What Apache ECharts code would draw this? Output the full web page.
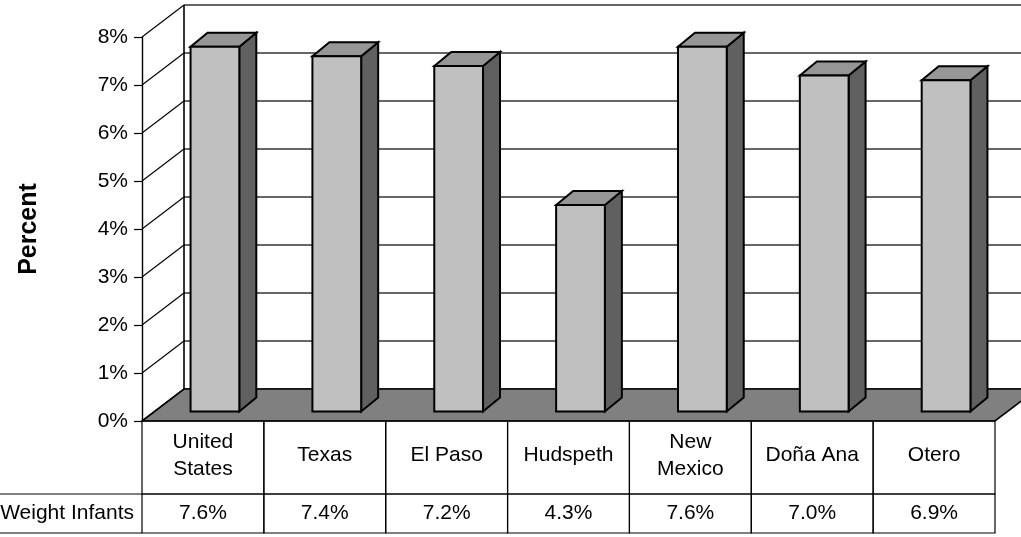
<!DOCTYPE html>
<html>
<head>
<meta charset="utf-8">
<script src="https://cdn.jsdelivr.net/npm/echarts@6/dist/echarts.min.js"></script>
<style>
  html, body { margin: 0; padding: 0; background: #fff; }
  #chart { width: 1021px; height: 537px; }
</style>
</head>
<body>
<div id="chart"></div>
<script>
// Low birth weight infants by area (percent)
const categories = ['United\nStates', 'Texas', 'El Paso', 'Hudspeth', 'New\nMexico', 'Doña Ana', 'Otero'];
const values = [7.6, 7.4, 7.2, 4.3, 7.6, 7.0, 6.9];
const rowLabel = 'Low Birth Weight Infants';
const yTicks = [0, 1, 2, 3, 4, 5, 6, 7, 8];
const axisName = 'Percent';

const FONT = '"Liberation Sans", Arial, sans-serif';

// Depth of the floor / walls and of each box, in pixels
const WALL_DX = 42, WALL_DY = -32;
const BAR_OX = 12, BAR_OY = -9.5;
const BAR_DX = 17, BAR_DY = -14;
const CAT_ROW_H = 73, VAL_ROW_H = 39;

const chart = echarts.init(document.getElementById('chart'), null, { renderer: 'canvas' });

function renderWall(params, api) {
  const cs = params.coordSys;
  const t = api.value(1);
  const y = api.coord([0, t])[1];
  const left = cs.x, right = cs.x + cs.width;
  return {
    type: 'group',
    children: [
      { type: 'line', shape: { x1: left + WALL_DX, y1: y + WALL_DY, x2: right + WALL_DX, y2: y + WALL_DY },
        style: { stroke: '#333', lineWidth: 1.5 } },
      { type: 'line', shape: { x1: left, y1: y, x2: left + WALL_DX, y2: y + WALL_DY },
        style: { stroke: '#000', lineWidth: 1.2 } }
    ]
  };
}

function renderFloor(params, api) {
  const cs = params.coordSys;
  const y0 = api.coord([0, yTicks[0]])[1];
  const yTop = api.coord([0, yTicks[yTicks.length - 1]])[1];
  const left = cs.x, right = cs.x + cs.width;
  return {
    type: 'group',
    children: [
      { type: 'line', shape: { x1: left + WALL_DX, y1: yTop + WALL_DY, x2: left + WALL_DX, y2: y0 + WALL_DY },
        style: { stroke: '#000', lineWidth: 1.6 } },
      { type: 'polygon',
        shape: { points: [[left, y0], [right, y0], [right + WALL_DX, y0 + WALL_DY], [left + WALL_DX, y0 + WALL_DY]] },
        style: { fill: '#808080', stroke: '#000', lineWidth: 1.6, lineJoin: 'miter' } }
    ]
  };
}

function renderBar(params, api) {
  const idx = api.value(0), v = api.value(1);
  const base = api.coord([idx, 0]);
  const top = api.coord([idx, v]);
  const bw = api.size([1, 0])[0] * 0.4;
  const x0 = base[0] - bw / 2 + BAR_OX, x1 = x0 + bw;
  const yb = base[1] + BAR_OY, yt = top[1] + BAR_OY;
  const edge = { stroke: '#000', lineWidth: 2, lineJoin: 'miter' };
  return {
    type: 'group',
    children: [
      { type: 'polygon', shape: { points: [[x1, yt], [x1 + BAR_DX, yt + BAR_DY], [x1 + BAR_DX, yb + BAR_DY], [x1, yb]] },
        style: Object.assign({ fill: '#606060' }, edge) },
      { type: 'polygon', shape: { points: [[x0, yt], [x0 + BAR_DX, yt + BAR_DY], [x1 + BAR_DX, yt + BAR_DY], [x1, yt]] },
        style: Object.assign({ fill: '#969696' }, edge) },
      { type: 'rect', shape: { x: x0, y: yt, width: bw, height: yb - yt },
        style: Object.assign({ fill: '#C0C0C0' }, edge) }
    ]
  };
}

function renderTable(params, api) {
  const idx = api.value(0), v = api.value(1);
  const c = api.coord([idx, 0]);
  const w = api.size([1, 0])[0];
  const xL = c[0] - w / 2;
  const y0 = c[1];
  const line = { stroke: '#000', lineWidth: 1.2, fill: null };
  const children = [
    { type: 'rect', shape: { x: xL, y: y0, width: w, height: CAT_ROW_H }, style: Object.assign({}, line) },
    { type: 'rect', shape: { x: xL, y: y0 + CAT_ROW_H, width: w, height: VAL_ROW_H }, style: Object.assign({}, line) },
    { type: 'text', style: { x: c[0], y: y0 + CAT_ROW_H / 2 - 2, text: categories[idx], align: 'center', verticalAlign: 'middle',
        font: '21px ' + FONT, lineHeight: 27, fill: '#000' } },
    { type: 'text', style: { x: c[0], y: y0 + CAT_ROW_H + VAL_ROW_H / 2, text: v.toFixed(1) + '%', align: 'center', verticalAlign: 'middle',
        font: '21px ' + FONT, fill: '#000' } }
  ];
  if (idx === 0) {
    children.push(
      { type: 'line', shape: { x1: -20, y1: y0 + CAT_ROW_H, x2: xL, y2: y0 + CAT_ROW_H }, style: Object.assign({}, line) },
      { type: 'line', shape: { x1: -20, y1: y0 + CAT_ROW_H + VAL_ROW_H, x2: xL, y2: y0 + CAT_ROW_H + VAL_ROW_H }, style: Object.assign({}, line) },
      { type: 'text', style: { x: xL - 8, y: y0 + CAT_ROW_H + VAL_ROW_H / 2, text: rowLabel, align: 'right', verticalAlign: 'middle',
          font: '21px ' + FONT, fill: '#000' } }
    );
  }
  return { type: 'group', children };
}

const option = {
  backgroundColor: '#fff',
  animation: false,
  grid: { left: 142, right: 26, top: 37, bottom: 116 },
  xAxis: {
    type: 'category',
    data: categories,
    boundaryGap: true,
    axisLine: { show: false },
    axisTick: { show: false },
    axisLabel: { show: false },
    splitLine: { show: false }
  },
  yAxis: {
    type: 'value',
    min: 0, max: 8, interval: 1,
    name: axisName,
    nameLocation: 'middle',
    nameGap: 100,
    nameRotate: 90,
    nameTextStyle: { fontFamily: FONT, fontSize: 25, fontWeight: 'bold', color: '#000' },
    axisLine: { show: true, lineStyle: { color: '#000', width: 1.4 } },
    axisTick: { show: true, inside: false, length: 8, lineStyle: { color: '#000', width: 1.2 } },
    axisLabel: { formatter: '{value}%', fontFamily: FONT, fontSize: 21, color: '#000', margin: 14 },
    splitLine: { show: false }
  },
  series: [
    { type: 'custom', name: 'walls', z: 1, clip: false, renderItem: renderWall,
      encode: { x: 0, y: 1 }, data: yTicks.map(t => [0, t]), silent: true },
    { type: 'custom', name: 'floor', z: 2, clip: false, renderItem: renderFloor,
      encode: { x: 0, y: 1 }, data: [[0, 0]], silent: true },
    { type: 'custom', name: 'bars', z: 3, clip: false, renderItem: renderBar,
      encode: { x: 0, y: 1 }, data: values.map((v, i) => [i, v]) },
    { type: 'custom', name: 'table', z: 4, clip: false, renderItem: renderTable,
      encode: { x: 0, y: 1 }, data: values.map((v, i) => [i, v]), silent: true }
  ]
};

chart.setOption(option);
</script>
</body>
</html>
